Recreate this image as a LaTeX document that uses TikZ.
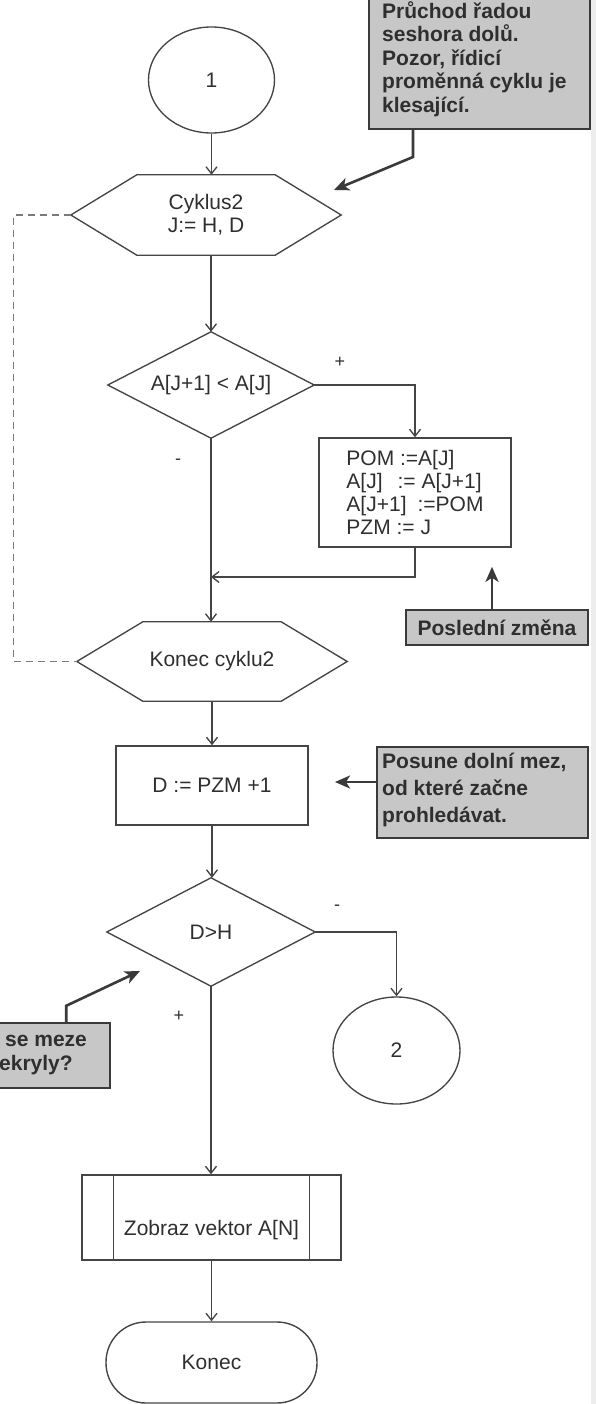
\documentclass[tikz,border=0pt]{standalone}
\usepackage{fontspec}
\setmainfont{Liberation Sans}
\usetikzlibrary{arrows.meta,shapes.geometric}

\definecolor{ink}{HTML}{454545}
\definecolor{txt}{HTML}{2F2F2F}
\definecolor{notefill}{HTML}{C7C7C7}
\definecolor{noteline}{HTML}{3A3A3A}
\definecolor{loopc}{HTML}{7A7A7A}
\definecolor{edgestrip}{HTML}{EDEDED}

\newcommand\flowfont{\fontsize{21}{23}\selectfont}
\newcommand\notefont{\fontsize{21}{23.5}\selectfont\bfseries}
\newcommand\signfont{\fontsize{18}{20}\selectfont}

\begin{document}
\begin{tikzpicture}[x=1pt,y=-1pt,
  line/.style={draw=ink, line width=1.35pt},
  flow/.style={draw=ink, line width=1.35pt, -{Straight Barb[length=7pt,width=11pt]}},
  frame/.style={inner sep=0pt, font=\flowfont, text=txt, align=center},
  box/.style={draw=ink, line width=1.4pt, inner sep=0pt, font=\flowfont, text=txt},
  conn/.style={ellipse, draw=ink, line width=1.35pt, inner sep=0pt, font=\flowfont, text=txt},
  sign/.style={font=\signfont, text=txt, inner sep=0pt},
  note/.style={draw=noteline, fill=notefill, line width=2.4pt, inner sep=0pt},
  notetext/.style={font=\notefont, text=txt, align=left, inner sep=0pt},
  pointer/.style={draw=noteline, line width=2.6pt, -{Stealth[length=15pt,width=13pt,inset=4pt]}},
  loopline/.style={draw=loopc, line width=1.3pt, dash pattern=on 7pt off 5pt}
]
\clip (0,0) rectangle (596,1404);
\fill[edgestrip] (591,0) rectangle (596,1404);

% ---------- flow nodes ----------
\node[conn, minimum width=126pt, minimum height=106pt] (start) at (211.5,80) {1};

\node[frame, minimum width=270pt, minimum height=80pt] (cyc) at (206,215) {Cyklus2\\J:= H, D};
\draw[line] (cyc.west) -- ([xshift=66pt]cyc.north west) -- ([xshift=-66pt]cyc.north east)
  -- (cyc.east) -- ([xshift=-66pt]cyc.south east) -- ([xshift=66pt]cyc.south west) -- cycle;

\node[frame, minimum width=206pt, minimum height=106pt] (cmp) at (211,385) {A[J+1] < A[J]};
\draw[line] (cmp.north) -- (cmp.east) -- (cmp.south) -- (cmp.west) -- cycle;

\node[box, minimum width=192pt, minimum height=109pt, align=left] (swap) at (415,492.5)
  {POM :=A[J]\\A[J]\hspace{15pt}:= A[J+1]\\A[J+1]\hspace{11pt}:=POM\\PZM := J};

\node[frame, minimum width=270pt, minimum height=79pt] (endcyc) at (212,661.5) {Konec cyklu2};
\draw[line] (endcyc.west) -- ([xshift=66pt]endcyc.north west) -- ([xshift=-66pt]endcyc.north east)
  -- (endcyc.east) -- ([xshift=-66pt]endcyc.south east) -- ([xshift=66pt]endcyc.south west) -- cycle;

\node[box, minimum width=192pt, minimum height=79pt] (lower) at (212,785.5) {D := PZM +1};

\node[frame, minimum width=208pt, minimum height=108pt] (test) at (211,932) {D>H};
\draw[line] (test.north) -- (test.east) -- (test.south) -- (test.west) -- cycle;

\node[conn, minimum width=127pt, minimum height=107pt] (exit) at (396.5,1050.5) {2};

\node[box, minimum width=259pt, minimum height=85pt] (show) at (211.5,1217.5) {};
\draw[line] ([xshift=32pt]show.north west) -- ([xshift=32pt]show.south west);
\draw[line] ([xshift=-32pt]show.north east) -- ([xshift=-32pt]show.south east);
\node[frame] (showtext) at (211.5,1230) {Zobraz vektor A[N]};

\node[box, rounded corners=40pt, minimum width=211pt, minimum height=81pt] (stop) at (211.5,1362.5) {Konec};

% ---------- connectors ----------
\coordinate (join) at (211,577);
\draw[flow] (start.south) -- (start.south |- cyc.north);
\draw[flow] (cyc.south -| cmp.north) -- (cmp.north);
\draw[flow] (cmp.east) -| (swap.north);
\draw[flow] (cmp.south) -- (cmp.south |- endcyc.north);
\draw[flow] (swap.south) |- (join);
\draw[flow] (endcyc.south) -- (lower.north);
\draw[flow] (lower.south) -- (lower.south |- test.north);
\draw[flow] (test.east) -| (exit.north);
\draw[flow] (test.south) -- (test.south |- show.north);
\draw[flow] (show.south) -- (stop.north);
\draw[loopline] (cyc.west) -- ++(-57,0) |- (endcyc.west);

\node[sign] (plus1) at (340,362) {+};
\node[sign] (minus1) at (178,462) {-};
\node[sign] (minus2) at (337,908) {-};
\node[sign] (plus2) at (179,1016) {+};

% ---------- notes ----------
\node[note, minimum width=221pt, minimum height=137pt, anchor=south west] (n1) at (368,130) {};
\node[notetext, anchor=west] (n1text) at (382,59)
  {Průchod řadou\\seshora dolů.\\Pozor, řídicí\\proměnná cyklu je\\klesající.};
\coordinate (t1) at (334,190);
\draw[pointer] ([xshift=45pt]n1.south west) -- ++(0,27) -- (t1);

\node[note, minimum width=182pt, minimum height=35pt, font=\notefont, text=txt] (n2) at (497,627.5) {Poslední změna};
\draw[pointer] ([xshift=-5pt]n2.north) -- ++(0,-42);

\node[note, minimum width=211pt, minimum height=91pt] (n3) at (482.5,792.5) {};
\node[notetext, anchor=west] (n3text) at (382,790)
  {Posune dolní mez,\\[3.5pt]od které začne\\[3.5pt]prohledávat.};
\coordinate (t3) at (335,782);
\draw[pointer] ([yshift=10.5pt]n3.west) -- (t3);

\node[note, minimum width=130pt, minimum height=65pt] (n4) at (45,1055.5) {};
\node[notetext, anchor=west] (n4text) at (-1,1055)
  {\hspace*{6pt}se meze\\ekryly?};
\coordinate (t4) at (140,971);
\draw[pointer] ([xshift=-45pt]n4.north east) -- ++(0,-16) -- (t4);
\end{tikzpicture}
\end{document}
